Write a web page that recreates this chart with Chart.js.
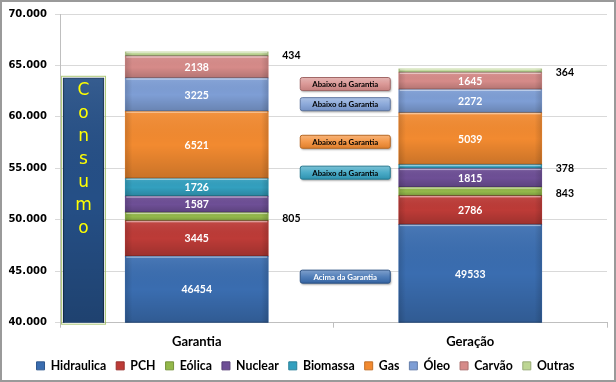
<!DOCTYPE html>
<html><head><meta charset="utf-8">
<script src="https://cdn.jsdelivr.net/npm/chart.js@4.4.1/dist/chart.umd.min.js"></script>
<style>html,body{margin:0;padding:0;background:#fff}#wrap{width:616px;height:382px;position:relative}</style>
</head><body><div id="wrap"><canvas id="c"></canvas></div>
<script>
// ---- data ----
const categories = ['Garantia', 'Geração'];
const seriesNames = ['Hidraulica', 'PCH', 'Eólica', 'Nuclear', 'Biomassa', 'Gas', 'Óleo', 'Carvão', 'Outras'];
const hidraulica = [46454, 49533];
const pch = [3445, 2786];
const eolica = [805, 843];
const nuclear = [1587, 1815];
const biomassa = [1726, 378];
const gas = [6521, 5039];
const oleo = [3225, 2272];
const carvao = [2138, 1645];
const outras = [434, 364];
const consumoLabel = 'Consumo';
const consumoValue = [63800];
const annotationSeries = ['Hidraulica', 'Biomassa', 'Gas', 'Óleo', 'Carvão'];
const annotationTexts = ['Acima da Garantia', 'Abaixo da Garantia', 'Abaixo da Garantia', 'Abaixo da Garantia', 'Abaixo da Garantia'];
const yMin = 40000, yMax = 70000, yStep = 5000;

// ---- styles ----
const seriesValues = [hidraulica, pch, eolica, nuclear, biomassa, gas, oleo, carvao, outras];
const seriesColors = ['#3A6DB0', '#BD3B37', '#93B84A', '#6E4F96', '#33A0BF', '#F28A30', '#7E9ED5', '#D68B89', '#BDD693'];
const consumoColor = '#254F86';
const consumoPosition = -0.414; // in category units (0 = Garantia, 1 = Geração)
const FONT = 'Lato';

const datasets = seriesNames.map((n, k) => ({
  label: n,
  data: seriesValues[k].map((v, i) => ({x: i, y: v})),
  backgroundColor: seriesColors[k],
  borderWidth: 0,
  xAxisID: 'xl',
  stack: 'main',
  grouped: false,
  barThickness: 143,
  clip: 0
}));
datasets.push({
  label: consumoLabel,
  data: [{x: consumoPosition, y: consumoValue[0]}],
  backgroundColor: consumoColor,
  borderColor: '#16304F',
  borderWidth: 1,
  xAxisID: 'xl',
  stack: 'consumo',
  grouped: false,
  barThickness: 41,
  clip: 0,
  isConsumo: true
});

function visibleSpan(el, area) {
  const p = el.getProps(['x', 'y', 'base', 'width'], true);
  const top = Math.max(Math.min(p.y, p.base), area.top);
  const bot = Math.min(Math.max(p.y, p.base), area.bottom);
  return {x: p.x, w: p.width, top, bot, left: p.x - p.width / 2, right: p.x + p.width / 2};
}
function mix(hex, t) { // t>0 toward white, t<0 toward black
  const n = parseInt(hex.slice(1), 16);
  const c = [n >> 16, (n >> 8) & 255, n & 255].map(v => Math.round(t >= 0 ? v + (255 - v) * t : v * (1 + t)));
  return `rgb(${c[0]},${c[1]},${c[2]})`;
}

const decoPlugin = {
  id: 'deco',
  beforeDraw(chart) {
    const ctx = chart.ctx;
    ctx.save(); ctx.fillStyle = '#fff'; ctx.fillRect(0, 0, chart.width, chart.height); ctx.restore();
  },
  afterDatasetsDraw(chart) {
    const ctx = chart.ctx, area = chart.chartArea;
    // shading overlay
    chart.data.datasets.forEach((ds, di) => {
      const meta = chart.getDatasetMeta(di);
      meta.data.forEach((el) => {
        const s = visibleSpan(el, area);
        const h = s.bot - s.top;
        if (h <= 0) return;
        ctx.save();
        const g = ctx.createLinearGradient(0, s.top, 0, s.bot);
        g.addColorStop(0, 'rgba(255,255,255,0.08)');
        g.addColorStop(0.5, 'rgba(0,0,0,0.0)');
        g.addColorStop(1, 'rgba(0,0,0,0.17)');
        ctx.fillStyle = g; ctx.fillRect(s.left, s.top, s.w, h);
        const gh = ctx.createLinearGradient(s.left, 0, s.right, 0);
        gh.addColorStop(0, 'rgba(0,0,0,0.14)'); gh.addColorStop(0.05, 'rgba(0,0,0,0)');
        gh.addColorStop(0.95, 'rgba(0,0,0,0)'); gh.addColorStop(1, 'rgba(0,0,0,0.14)');
        ctx.fillStyle = gh; ctx.fillRect(s.left, s.top, s.w, h);
        if (!ds.isConsumo) {
          ctx.fillStyle = 'rgba(255,255,255,0.45)';
          ctx.fillRect(s.left + 1, s.top, s.w - 2, Math.min(1.5, h));
          ctx.fillStyle = 'rgba(0,0,0,0.22)';
          ctx.fillRect(s.left, s.bot - Math.min(1, h), s.w, Math.min(1, h));
        } else {
          ctx.strokeStyle = 'rgba(155,187,89,0.8)'; ctx.lineWidth = 1;
          ctx.strokeRect(s.left - 1.5, s.top - 1.5, s.w + 3, h + 3);
        }
        ctx.restore();
      });
    });
    // data labels
    ctx.save();
    ctx.font = `bold 10.5px ${FONT}`;
    ctx.textBaseline = 'middle';
    seriesNames.forEach((n, di) => {
      const meta = chart.getDatasetMeta(di);
      meta.data.forEach((el, i) => {
        const v = seriesValues[di][i];
        const s = visibleSpan(el, area);
        const h = s.bot - s.top, cy = (s.top + s.bot) / 2;
        if (h >= 12) {
          ctx.fillStyle = '#fff'; ctx.textAlign = 'center';
          ctx.fillText(String(v), s.x, cy + 0.5);
        } else {
          ctx.fillStyle = '#000'; ctx.textAlign = 'left';
          ctx.fillText(String(v), s.right + 14, cy + 2);
        }
      });
    });
    ctx.restore();
    // annotation boxes
    annotationSeries.forEach((name, k) => {
      const di = seriesNames.indexOf(name);
      const meta = chart.getDatasetMeta(di);
      const a = visibleSpan(meta.data[0], area), b = visibleSpan(meta.data[1], area);
      const cx = a.right + 0.59 * (b.left - a.right);
      const segH = b.bot - b.top;
      const cy = (b.top + b.bot) / 2 + (segH < 12 ? 6 : 3);
      const w = 90, h = 13, x = cx - w / 2, y = cy - h / 2;
      const col = seriesColors[di];
      ctx.save();
      ctx.shadowColor = 'rgba(0,0,0,0.35)'; ctx.shadowOffsetX = 1; ctx.shadowOffsetY = 1.5; ctx.shadowBlur = 2;
      const g = ctx.createLinearGradient(0, y, 0, y + h);
      g.addColorStop(0, mix(col, 0.35)); g.addColorStop(0.5, mix(col, 0.12)); g.addColorStop(1, mix(col, -0.08));
      ctx.fillStyle = g;
      ctx.beginPath();
      if (ctx.roundRect) ctx.roundRect(x, y, w, h, 2); else ctx.rect(x, y, w, h);
      ctx.fill();
      ctx.shadowColor = 'transparent';
      ctx.strokeStyle = mix(col, -0.25); ctx.lineWidth = 1; ctx.stroke();
      ctx.font = `bold 7.8px ${FONT}`;
      ctx.textAlign = 'center'; ctx.textBaseline = 'middle';
      ctx.fillStyle = name === 'Hidraulica' ? '#fff' : '#000';
      ctx.fillText(annotationTexts[k], cx, cy + 0.5);
      ctx.restore();
    });
    // consumo vertical letters
    const cm = chart.getDatasetMeta(chart.data.datasets.length - 1);
    const ce = cm.data[0];
    if (ce) {
      const s = visibleSpan(ce, area);
      ctx.save();
      ctx.font = '17px "DejaVu Sans"';
      ctx.fillStyle = '#FFFF00';
      ctx.textAlign = 'center'; ctx.textBaseline = 'middle';
      consumoLabel.split('').forEach((ch, k) => ctx.fillText(ch, s.x, s.top + 13 + k * 23));
      ctx.restore();
    }
  },
  afterDraw(chart) {
    const ctx = chart.ctx;
    ctx.save(); ctx.strokeStyle = '#9A9A9A'; ctx.lineWidth = 2;
    ctx.strokeRect(1, 1, chart.width - 2, chart.height - 2); ctx.restore();
  }
};

new Chart(document.getElementById('c'), {
  type: 'bar',
  data: {labels: categories, datasets},
  plugins: [decoPlugin],
  options: {
    responsive: true, maintainAspectRatio: false, animation: false, devicePixelRatio: 1,
    layout: {padding: {left: 4, right: 9, top: 13, bottom: 0}},
    plugins: {
      tooltip: {enabled: false},
      title: {display: false},
      legend: {
        position: 'bottom',
        maxHeight: 33,
        labels: {
          font: {family: FONT, size: 12.3, weight: 'bold'}, color: '#000',
          boxWidth: 8, boxHeight: 8, padding: 10,
          generateLabels: (chart) => seriesNames.map((n, k) => ({
            text: n, fillStyle: seriesColors[k], strokeStyle: mix(seriesColors[k], -0.2), lineWidth: 1,
            hidden: false, datasetIndex: k, fontColor: '#000'
          }))
        }
      }
    },
    scales: {
      x: {
        type: 'category', position: 'bottom', offset: true,
        grid: {display: true, drawOnChartArea: false, offset: true, tickLength: 5, color: '#BFBFBF'},
        border: {color: '#BFBFBF'},
        ticks: {font: {family: FONT, size: 13, weight: 'bold'}, color: '#000', padding: 6},
        afterFit: s => { s.height = 27; }
      },
      xl: {type: 'linear', position: 'bottom', display: false, min: -0.5, max: 1.5, offset: false, stacked: true},
      y: {
        stacked: true, min: yMin, max: yMax,
        ticks: {stepSize: yStep, padding: 8, color: '#000', font: {family: 'DejaVu Sans', size: 10, weight: 'bold'},
          callback: v => Number(v).toLocaleString('de-DE')},
        grid: {color: '#D9D9D9', tickLength: 5},
        border: {color: '#BFBFBF'},
        afterFit: s => { s.width = 56; }
      }
    }
  }
});
</script></body></html>
